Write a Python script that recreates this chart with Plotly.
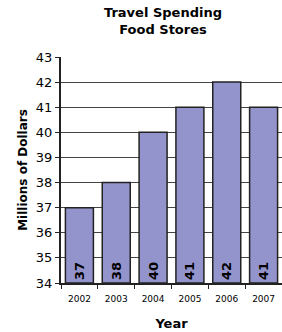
import plotly.graph_objects as go

years = ["2002", "2003", "2004", "2005", "2006", "2007"]
spending = [37, 38, 40, 41, 42, 41]
axis_min = 34
y_ticks = list(range(34, 44))

fig = go.Figure()
fig.add_trace(go.Bar(
    x=years,
    y=[v - axis_min for v in spending],
    base=axis_min,
    marker=dict(color="#9494CC", line=dict(color="#222222", width=1.5)),
    text=[str(v) for v in spending],
    textposition="inside",
    insidetextanchor="start",
    textangle=-90,
    textfont=dict(family="DejaVu Sans", size=13, color="black", weight="bold"),
    hoverinfo="skip",
))

fig.update_layout(
    width=282, height=332,
    margin=dict(l=61, r=0, t=57, b=49),
    paper_bgcolor="white", plot_bgcolor="white",
    bargap=0.24,
    showlegend=False,
    font=dict(family="DejaVu Sans", color="black"),
    annotations=[dict(
        text="<b>Travel Spending<br>Food Stores</b>",
        xref="paper", yref="paper", x=0.46, y=1.0, yshift=54,
        xanchor="center", yanchor="top", showarrow=False,
        font=dict(size=13, family="DejaVu Sans", color="black"),
    )],
)
fig.update_xaxes(
    type="category", automargin=False,
    showline=True, linecolor="#222222", linewidth=2,
    ticks="outside", ticklen=4, tickcolor="#222222", tickson="boundaries",
    tickfont=dict(size=9), ticklabelstandoff=6,
    title=dict(text="<b>Year</b>", font=dict(size=13), standoff=16),
    showgrid=False,
)
fig.update_yaxes(
    range=[34, 43], tickvals=y_ticks, automargin=False,
    showline=True, linecolor="#222222", linewidth=2,
    ticks="outside", ticklen=4, tickcolor="#222222",
    tickfont=dict(size=13),
    showgrid=True, gridcolor="#444444", gridwidth=1,
    title=dict(text="<b>Millions of Dollars</b>", font=dict(size=12), standoff=6),
    zeroline=False,
)
fig.write_html("out.html", config={"displayModeBar": False},
               post_script="document.body.style.margin='0';")
